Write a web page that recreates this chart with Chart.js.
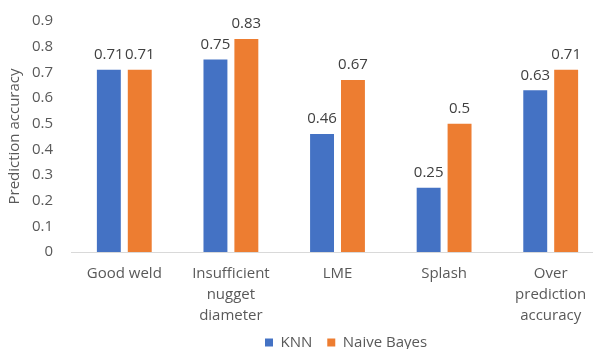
<!DOCTYPE html>
<html>
<head>
<meta charset="utf-8">
<script src="https://cdn.jsdelivr.net/npm/chart.js@4/dist/chart.umd.min.js"></script>
<style>
  html, body { margin: 0; padding: 0; background: #ffffff; overflow: hidden; }
  #wrap { width: 593px; height: 349px; overflow: hidden; }
</style>
</head>
<body>
<div id="wrap"><canvas id="c" width="604" height="349"></canvas></div>
<script>
// Categories and accuracy values for the two classifiers
const categories = [
  'Good weld',
  ['Insufficient', 'nugget', 'diameter'],
  'LME',
  'Splash',
  ['Over', 'prediction', 'accuracy']
];
const knnValues = [0.71, 0.75, 0.46, 0.25, 0.63];
const naiveBayesValues = [0.71, 0.83, 0.67, 0.5, 0.71];
const yTicks = [0, 0.1, 0.2, 0.3, 0.4, 0.5, 0.6, 0.7, 0.8, 0.9];

const FONT = '"Open Sans", "Liberation Sans", sans-serif';
const TEXT = '#595959';
const LEGEND_GAP = 15;

// Draws the value above each bar
const valueLabels = {
  id: 'valueLabels',
  afterDatasetsDraw(chart) {
    const ctx = chart.ctx;
    ctx.save();
    ctx.font = '15px ' + FONT;
    ctx.fillStyle = '#404040';
    ctx.textAlign = 'center';
    ctx.textBaseline = 'middle';
    chart.data.datasets.forEach((ds, i) => {
      chart.getDatasetMeta(i).data.forEach((bar, j) => {
        ctx.fillText(String(ds.data[j]), bar.x, bar.y - 15);
      });
    });
    ctx.restore();
  }
};

// The legend takes no layout space; it sits under the category labels
const legendPlacement = {
  id: 'legendPlacement',
  beforeLayout(chart) {
    const lg = chart.legend;
    if (!lg || lg._flat) return;
    const fit = lg.fit.bind(lg);
    lg.fit = function () { fit(); this.height = 0; };
    lg._flat = true;
  },
  afterLayout(chart) {
    const lg = chart.legend;
    if (!lg) return;
    lg.left = 265 - LEGEND_GAP;
    lg.right = chart.width;
    lg.width = lg.right - lg.left;
    lg.top = 335 - LEGEND_GAP;
    lg.bottom = lg.top + 25 + LEGEND_GAP;
    lg.height = lg.bottom - lg.top;
  }
};

new Chart(document.getElementById('c'), {
  type: 'bar',
  data: {
    labels: categories,
    datasets: [
      { label: 'KNN', data: knnValues, backgroundColor: '#4472C4' },
      { label: 'Naive Bayes', data: naiveBayesValues, backgroundColor: '#ED7D31' }
    ]
  },
  options: {
    responsive: false,
    animation: false,
    devicePixelRatio: 1,
    layout: { padding: { left: 0, right: 0, top: 21, bottom: 0 } },
    datasets: { bar: { categoryPercentage: 0.58, barPercentage: 0.774 } },
    plugins: {
      legend: {
        position: 'bottom',
        align: 'start',
        labels: {
          font: { family: FONT, size: 15 },
          color: TEXT,
          boxWidth: 8,
          boxHeight: 8,
          padding: LEGEND_GAP
        }
      },
      tooltip: { enabled: false }
    },
    scales: {
      x: {
        afterFit(scale) { scale.height = 97; scale.paddingLeft = 0; scale.paddingRight = 0; },
        grid: { display: false, drawTicks: false },
        border: { display: true, color: '#d9d9d9', width: 1 },
        ticks: {
          font: { family: FONT, size: 15, lineHeight: 1.4 },
          color: TEXT,
          padding: 11,
          maxRotation: 0,
          autoSkip: false
        }
      },
      y: {
        min: 0,
        max: 0.9,
        afterFit(scale) { scale.width = 71; scale.paddingTop = 0; scale.paddingBottom = 0; },
        afterBuildTicks(axis) { axis.ticks = yTicks.map(v => ({ value: v })); },
        grid: { display: false, drawTicks: false },
        border: { display: false },
        ticks: {
          font: { family: FONT, size: 15 },
          color: TEXT,
          padding: 18,
          callback: v => String(Math.round(v * 10) / 10)
        },
        title: {
          display: true,
          text: 'Prediction accuracy',
          font: { family: FONT, size: 15 },
          color: TEXT,
          padding: { top: 6, bottom: 0 }
        }
      }
    }
  },
  plugins: [valueLabels, legendPlacement]
});
</script>
</body>
</html>
